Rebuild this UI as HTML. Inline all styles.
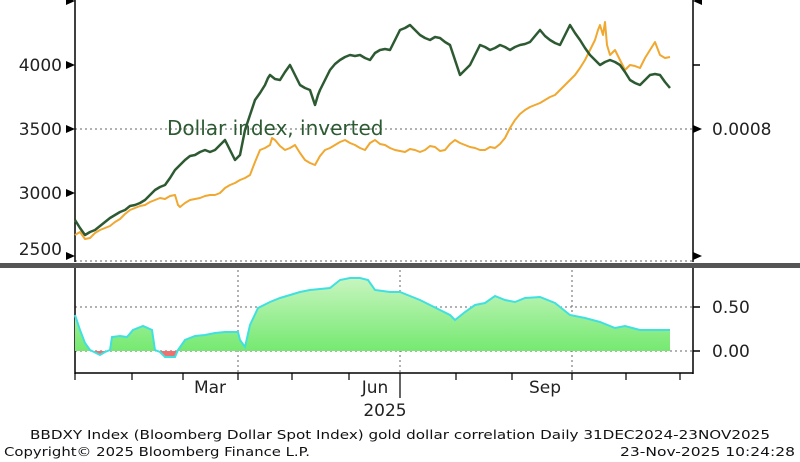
<!DOCTYPE html>
<html><head><style>body{margin:0;background:#fff}svg{display:block;font-family:"DejaVu Sans","Liberation Sans",sans-serif}</style></head>
<body>
<svg width="800" height="462" viewBox="0 0 800 462">
<defs>
<linearGradient id="g" x1="0" y1="0" x2="0" y2="1"><stop offset="0" stop-color="#c8f5c0"/><stop offset="1" stop-color="#6ee86a"/></linearGradient>
<clipPath id="up"><rect x="70" y="260" width="620" height="91"/></clipPath>
<clipPath id="dn"><rect x="70" y="351" width="620" height="30"/></clipPath>
</defs>
<g stroke="#666" stroke-dasharray="2,3" stroke-width="1">
<line x1="75" y1="129" x2="693" y2="129"/>
<line x1="75" y1="261" x2="693" y2="261"/>
<line x1="75" y1="307" x2="693" y2="307"/>
<line x1="75" y1="351" x2="693" y2="351"/>
<line x1="238" y1="270" x2="238" y2="372"/>
<line x1="400" y1="270" x2="400" y2="372"/>
<line x1="572" y1="270" x2="572" y2="372"/>
</g>
<g stroke="#000" stroke-width="1.5" fill="none">
<line x1="75" y1="0" x2="75" y2="262"/>
<line x1="693" y1="0" x2="693" y2="262"/>
<line x1="75" y1="268" x2="75" y2="374"/>
<line x1="693" y1="268" x2="693" y2="374"/>
<line x1="75" y1="373" x2="693" y2="373"/>
<line x1="693" y1="65" x2="700" y2="65"/>
<line x1="693" y1="307" x2="700" y2="307"/>
<line x1="693" y1="351" x2="700" y2="351"/>
</g>
<g stroke="#000" stroke-width="1.2">
<line x1="75" y1="373" x2="75" y2="380"/><line x1="132" y1="373" x2="132" y2="380"/><line x1="183" y1="373" x2="183" y2="380"/><line x1="238" y1="373" x2="238" y2="380"/><line x1="292" y1="373" x2="292" y2="380"/><line x1="349" y1="373" x2="349" y2="380"/><line x1="400" y1="373" x2="400" y2="380"/><line x1="456" y1="373" x2="456" y2="380"/><line x1="512" y1="373" x2="512" y2="380"/><line x1="572" y1="373" x2="572" y2="380"/><line x1="626" y1="373" x2="626" y2="380"/><line x1="680" y1="373" x2="680" y2="380"/>
<line x1="400" y1="380" x2="400" y2="398"/>
</g>
<rect x="0" y="263" width="800" height="5" fill="#555"/>
<g fill="#000">
<polygon points="75,1 66,-3 66,5"/><polygon points="75,65 66,61 66,69"/><polygon points="75,129 66,125 66,133"/><polygon points="75,193 66,189 66,197"/><polygon points="75,256 66,252 66,260"/>
<polygon points="693,1 702,-3 702,5"/><polygon points="702,129 693,125 693,133"/><polygon points="702,256 693,252 693,260"/>
</g>
<g font-size="17" fill="#222">
<text x="62" y="71" text-anchor="end">4000</text>
<text x="62" y="135" text-anchor="end">3500</text>
<text x="62" y="199" text-anchor="end">3000</text>
<text x="62" y="255" text-anchor="end">2500</text>
<text x="712" y="135">0.0008</text>
<text x="712" y="313">0.50</text>
<text x="712" y="357">0.00</text>
<text x="210" y="393" text-anchor="middle">Mar</text>
<text x="375" y="393" text-anchor="middle">Jun</text>
<text x="545" y="393" text-anchor="middle">Sep</text>
<text x="385" y="416" text-anchor="middle">2025</text>
</g>
<text x="167" y="135" font-size="20" fill="#2d5a32">Dollar index, inverted</text>
<g font-size="12.5" fill="#111">
<text x="30" y="439" textLength="740" lengthAdjust="spacingAndGlyphs">BBDXY Index (Bloomberg Dollar Spot Index) gold dollar correlation Daily 31DEC2024-23NOV2025</text>
<text x="4" y="456" textLength="306" lengthAdjust="spacingAndGlyphs">Copyright© 2025 Bloomberg Finance L.P.</text>
<text x="620" y="456" textLength="175" lengthAdjust="spacingAndGlyphs">23-Nov-2025 10:24:28</text>
</g>
<polygon clip-path="url(#up)" fill="url(#g)" points="75,351 75,315 80,330 85,343 90,350 100,355 105,352 110,350 112,337 120,336 127,337 133,330 143,326 152,330 155,350 160,352 165,357 175,357 178,350 185,340 195,336 205,335 215,333 225,332 238,332 240,340 245,347 250,325 258,308 270,302 280,298 290,295 300,292 310,290 320,289 330,288 340,280 350,278 360,278 368,280 375,290 390,292 400,292 410,296 420,300 430,305 440,310 450,315 455,320 465,312 475,305 485,303 495,296 505,300 515,302 525,298 540,297 555,303 570,315 585,318 600,322 615,328 625,326 640,330 655,330 670,330 670,351"/>
<polygon clip-path="url(#dn)" fill="#f07070" points="75,351 75,315 80,330 85,343 90,350 100,355 105,352 110,350 112,337 120,336 127,337 133,330 143,326 152,330 155,350 160,352 165,357 175,357 178,350 185,340 195,336 205,335 215,333 225,332 238,332 240,340 245,347 250,325 258,308 270,302 670,330 670,351"/>
<polyline fill="none" stroke="#40e0e0" stroke-width="2" points="75,315 80,330 85,343 90,350 100,355 105,352 110,350 112,337 120,336 127,337 133,330 143,326 152,330 155,350 160,352 165,357 175,357 178,350 185,340 195,336 205,335 215,333 225,332 238,332 240,340 245,347 250,325 258,308 270,302 280,298 290,295 300,292 310,290 320,289 330,288 340,280 350,278 360,278 368,280 375,290 390,292 400,292 410,296 420,300 430,305 440,310 450,315 455,320 465,312 475,305 485,303 495,296 505,300 515,302 525,298 540,297 555,303 570,315 585,318 600,322 615,328 625,326 640,330 655,330 670,330"/>
<polyline fill="none" stroke="#f0a830" stroke-width="2" stroke-linejoin="round" points="75,235 80,232 85,239 90,238 95,233 100,230 105,228 110,226 115,222 120,219 125,214 130,210 135,208 140,206 145,205 150,202 155,200 160,198 165,199 170,196 175,195 178,205 180,207 185,203 190,200 195,199 200,198 205,196 210,195 215,195 220,193 225,188 230,185 235,183 240,180 245,178 250,175 255,162 260,150 265,148 270,145 272,138 275,140 280,146 285,150 290,148 295,145 300,153 305,160 310,163 315,165 320,156 325,150 330,148 335,145 340,142 345,140 350,143 355,145 360,148 365,150 370,143 375,140 380,144 385,145 390,148 395,150 400,151 405,152 410,149 415,150 420,152 425,150 430,146 435,147 440,151 445,150 450,144 455,140 460,143 465,145 470,147 475,148 480,150 485,150 490,147 495,148 500,144 505,138 510,128 515,120 520,114 525,110 530,107 535,105 540,103 545,100 550,97 555,95 560,90 565,85 570,80 575,75 580,68 585,60 590,50 595,40 598,30 600,25 603,35 605,22 607,45 610,55 615,50 620,60 625,70 630,65 635,66 640,68 645,58 650,50 655,42 660,55 665,58 670,57"/>
<polyline fill="none" stroke="#2d5a32" stroke-width="2.5" stroke-linejoin="round" points="75,220 80,228 85,235 90,232 95,230 100,226 105,222 110,218 115,215 120,212 125,210 130,206 135,205 140,203 145,200 150,195 155,190 160,187 165,185 170,178 175,170 180,165 185,160 190,156 195,155 200,152 205,150 210,152 215,150 220,145 225,140 230,150 235,160 240,155 243,140 245,130 250,115 255,100 260,93 265,85 268,78 270,75 275,79 280,80 285,72 290,65 295,75 300,85 305,88 310,90 315,105 318,95 320,90 325,80 330,70 335,64 340,60 345,57 350,55 355,56 360,55 365,58 370,60 375,53 380,50 385,49 390,50 395,40 400,30 405,28 410,25 415,30 420,35 425,38 430,40 435,37 440,38 445,42 450,45 455,60 460,75 465,70 470,65 475,55 480,45 485,47 490,50 495,48 500,45 505,47 510,50 515,47 520,45 525,44 530,42 535,36 540,30 545,36 550,40 555,43 560,45 565,35 570,25 575,33 580,40 585,48 590,55 595,60 600,65 605,62 610,60 615,62 620,65 625,72 630,80 635,83 640,85 645,80 650,75 655,74 660,75 665,82 670,88"/>
</svg>
</body></html>
